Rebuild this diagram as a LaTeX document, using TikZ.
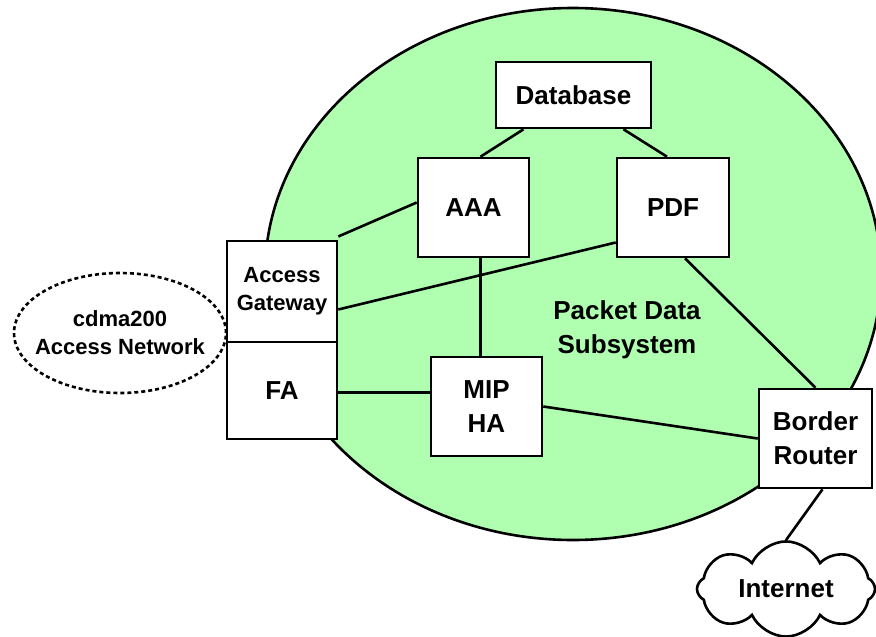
\documentclass[tikz,border=0pt]{standalone}
\usepackage{fontspec}
\setmainfont{Liberation Sans}
\usepackage{xcolor}
\usetikzlibrary{shapes.symbols}

\definecolor{pdsgreen}{RGB}{176,255,176}

\begin{document}
\begin{tikzpicture}[x=1pt,y=-1pt,
  netbox/.style={draw, fill=white, line width=2.6pt, align=center, inner sep=0pt,
    font=\fontsize{26}{34}\selectfont\bfseries},
  smalltext/.style={font=\fontsize{22}{28}\selectfont\bfseries},
  link/.style={line width=2.6pt}]

\def \lw {2.6pt}
\useasboundingbox (0,0) rectangle (876,637);

% packet data subsystem
\draw[line width=\lw, fill=pdsgreen] (573,274) ellipse [x radius=308pt, y radius=266pt];
\node[align=center, font=\fontsize{26}{34}\selectfont\bfseries] (pds) at (627,330) {Packet Data\\Subsystem};

% access network, drawn under the gateway box
\node[smalltext, align=center] (can) at (120,333) {cdma200\\Access Network};
\draw[line width=\lw, dash pattern=on 4pt off 3pt] (can.center) ellipse [x radius=106pt, y radius=60pt];

\node[netbox, minimum width=155pt, minimum height=66pt] (db) at (573.5,95) {Database};
\node[netbox, minimum width=111pt, minimum height=99pt] (aaa) at (473.5,207.5) {AAA};
\node[netbox, minimum width=112pt, minimum height=99pt] (pdf) at (673,207.5) {PDF};
\node[netbox, smalltext, minimum width=110pt, minimum height=101pt] (ag) at (282,291.5) {Access\\Gateway};
\node[netbox, minimum width=110pt, minimum height=97pt] (fa) at (282,390.5) {FA};
\node[netbox, minimum width=111pt, minimum height=99pt] (mip) at (486.5,406.5) {MIP\\HA};
\node[netbox, minimum width=113pt, minimum height=99pt] (br) at (815.5,438.5) {Border\\Router};

\node[netbox, cloud, cloud puffs=8, cloud puff arc=130, aspect=2,
  minimum width=178pt, minimum height=90pt] (inet) at (786,589) {Internet};

% links
\draw[link] ([xshift=-50pt]db.south) -- ([xshift=7pt]aaa.north);
\draw[link] ([xshift=50pt]db.south) -- ([xshift=-6pt]pdf.north);
\draw[link] ([yshift=55pt]ag.east) -- ([yshift=5pt]aaa.west);
\draw[link] ([yshift=-18pt]ag.east) -- ([yshift=-35pt]pdf.west);
\draw[link] ([xshift=7pt]aaa.south) -- ([xshift=7pt]aaa.south |- mip.north);
\draw[link] ([yshift=-2pt]fa.east) -- ([yshift=-2pt]fa.east -| mip.west);
\draw[link] (mip.east) -- (br.west);
\draw[link] ([xshift=12pt]pdf.south) -- (br.north);
\draw[link] ([xshift=7pt]br.south) -- (inet.north);
\end{tikzpicture}
\end{document}
